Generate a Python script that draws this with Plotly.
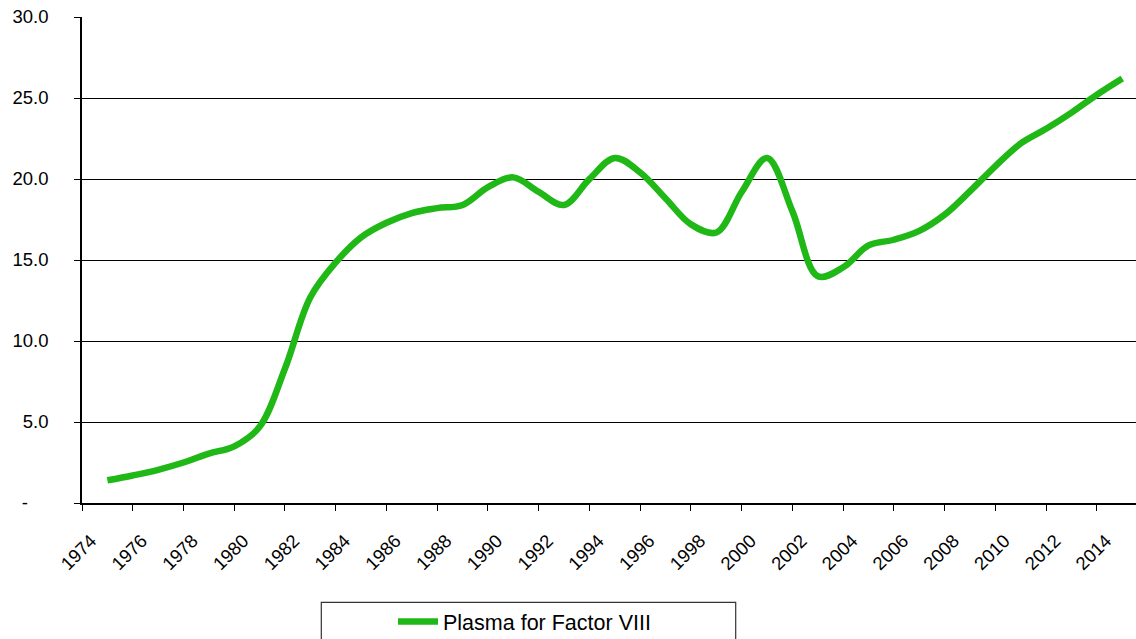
import plotly.graph_objects as go

years = list(range(1975, 2016))
plasma_factor_viii = [
    1.4, 1.7, 2.05, 2.5, 3.05, 3.5, 4.7, 8.3, 12.7, 14.85,
    16.4, 17.3, 17.9, 18.2, 18.4, 19.5, 20.1, 19.2, 18.4, 20.0,
    21.3, 20.4, 18.8, 17.2, 16.7, 19.2, 21.3, 18.0, 14.0, 14.55,
    15.9, 16.25, 16.8, 17.8, 19.25, 20.8, 22.2, 23.1, 24.1, 25.2,
    26.2,
]
y_tick_vals = [0, 5, 10, 15, 20, 25, 30]
y_tick_text = ["-\u00a0\u00a0\u00a0\u00a0", "5.0", "10.0", "15.0", "20.0", "25.0", "30.0"]
series_name = "Plasma for Factor VIII"

W, H = 1136, 639
L, R, T, B = 82, 0, 17, 136
pw, ph = W - L - R, H - T - B

def px_x(px):
    return (px - L) / pw

def px_y(py):
    return (H - B - py) / ph

font_family = "Liberation Sans, Arial, sans-serif"

fig = go.Figure()
fig.add_trace(go.Scatter(
    x=years, y=plasma_factor_viii, mode="lines", name=series_name,
    line=dict(color="#20B816", width=6.5, shape="spline", smoothing=1.0),
))

fig.update_layout(
    width=W, height=H,
    margin=dict(l=L, r=R, t=T, b=B, pad=0, autoexpand=False),
    paper_bgcolor="white", plot_bgcolor="white",
    font=dict(family=font_family, size=18, color="black"),
    showlegend=True,
    legend=dict(
        xref="container", yref="container",
        x=393 / W, y=(H - 601) / H, xanchor="left", yanchor="top",
        bgcolor="rgba(0,0,0,0)", borderwidth=0,
        font=dict(size=21.5, family=font_family, color="black"),
        itemwidth=40,
    ),
    xaxis=dict(
        range=[1974, 2015.54], tickmode="linear", tick0=1974, dtick=2,
        tickangle=-45, showgrid=False, zeroline=False, automargin=False,
        showline=True, linecolor="black", linewidth=1.5,
        ticks="outside", ticklen=6, tickcolor="black", tickwidth=1,
        tickfont=dict(size=18.5, family=font_family, color="black"),
        ticklabelstandoff=12, ticklabelshift=9,
    ),
    yaxis=dict(
        range=[0, 30], tickvals=y_tick_vals, ticktext=y_tick_text,
        showgrid=True, gridcolor="black", gridwidth=1, zeroline=False,
        automargin=False,
        showline=True, linecolor="black", linewidth=1.5,
        ticks="outside", ticklen=6, tickcolor="black", tickwidth=1,
        tickfont=dict(size=18.5, family=font_family, color="black"),
        ticklabelstandoff=22,
    ),
    shapes=[dict(
        type="rect", xref="paper", yref="paper",
        x0=px_x(321.3), x1=px_x(735.7), y0=px_y(660), y1=px_y(602.3),
        line=dict(color="#333333", width=1.2), fillcolor="rgba(0,0,0,0)",
        layer="above",
    )],
)

fig.write_html(
    "out.html",
    config={"displayModeBar": False},
    post_script="document.body.style.margin='0';document.body.style.overflow='hidden';",
)
